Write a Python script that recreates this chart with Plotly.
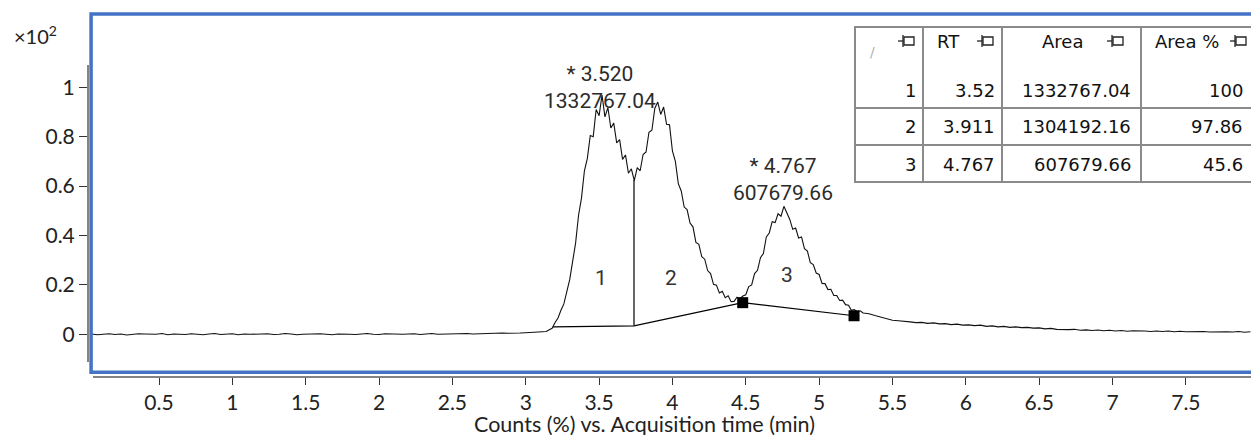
import numpy as np
import plotly.graph_objects as go

# ---------------- data ----------------
# signal sampled in three segments (start time, step in min) with values read from the picture
base_t0, base_dt = 0.04, 0.04
base_v = [v / 1000 for v in [
    1, -2, 0, 2, -1, 1, -3, 0, 2, 1, -1, 0, 3, -2, 1, 0, -1, 2, 0, -2,
    1, 3, -1, 0, 2, -2, 1, 0, -1, 1, 2, -1, 0, 3, 1, -2, 0, 1, -1, 2,
    0, -2, 1, 2, 0, -1, 1, 3, 0, -1, 2, 1, -2, 0, 1, 2, -1, 1, 3, 0,
    1, 0, 2, 1, 3, 1, 2, 4, 2, 3, 5, 4, 6, 5, 6, 7, 8, 9]]

peak_t0, peak_dt = 3.14, 0.02
peak_v = [
    0.011, 0.018, 0.024, 0.048, 0.066, 0.097, 0.123, 0.173, 0.222, 0.296,
    0.370, 0.482, 0.551, 0.662, 0.712, 0.805, 0.800, 0.910, 0.885, 0.968,
    0.880, 0.918, 0.835, 0.855, 0.775, 0.788, 0.708, 0.726, 0.652, 0.670,
    0.622, 0.675, 0.662, 0.728, 0.738, 0.818, 0.826, 0.915, 0.940, 0.890,
    0.920, 0.850, 0.848, 0.742, 0.700, 0.610, 0.580, 0.515, 0.505, 0.450,
    0.435, 0.372, 0.364, 0.314, 0.304, 0.258, 0.246, 0.202, 0.199, 0.167,
    0.174, 0.148, 0.156, 0.132, 0.133, 0.150, 0.143, 0.155, 0.160, 0.193,
    0.200, 0.246, 0.259, 0.310, 0.327, 0.394, 0.410, 0.456, 0.452, 0.488,
    0.478, 0.518, 0.492, 0.465, 0.425, 0.430, 0.390, 0.394, 0.347, 0.337,
    0.290, 0.282, 0.248, 0.242, 0.206, 0.205, 0.181, 0.182, 0.157, 0.157,
    0.137, 0.138, 0.120, 0.118, 0.097, 0.100, 0.090, 0.095, 0.086]

tail_t0, tail_dt = 5.34, 0.04
tail_v = [v / 1000 for v in [
    83, 76, 70, 63, 57, 55, 51, 50, 47, 48, 44, 46, 42, 43, 39, 41, 37, 38, 35, 37,
    32, 34, 30, 32, 28, 30, 27, 28, 25, 26, 22, 24, 20, 21, 19, 20, 16, 18, 15, 17,
    14, 16, 13, 15, 12, 14, 12, 13, 11, 13, 11, 13, 10, 12, 10, 11, 9, 11, 9, 10,
    9, 10, 9, 11, 8, 10]]

# integration baseline (time, value); last two points are marked
bl_t = [3.186, 3.738, 4.479, 5.238]
bl_v = [0.030, 0.034, 0.128, 0.075]
valley1_v = 0.625          # signal value at the drop line

# peak table
peak_ids = ["1", "2", "3"]
rt_txt = ["3.52", "3.911", "4.767"]
area_txt = ["1332767.04", "1304192.16", "607679.66"]
area_pct_txt = ["100", "97.86", "45.6"]
table_header = ["RT", "Area", "Area %"]

# labelled peaks
lab_rt = [3.520, 4.767]
lab_apex = [0.961, 0.512]
lab_text = ["* 3.520<br>1332767.04", "* 4.767<br>607679.66"]

x_ticks = [0.5, 1, 1.5, 2, 2.5, 3, 3.5, 4, 4.5, 5, 5.5, 6, 6.5, 7, 7.5]
x_ticklabels = ["0.5", "1", "1.5", "2", "2.5", "3", "3.5", "4", "4.5", "5", "5.5", "6", "6.5", "7", "7.5"]
y_ticks = [0, 0.2, 0.4, 0.6, 0.8, 1]
y_ticklabels = ["0", "0.2", "0.4", "0.6", "0.8", "1"]

# ---------------- build ----------------
def seg(t0, dt, vals):
    return [round(t0 + dt * i, 4) for i in range(len(vals))]

t_all = seg(base_t0, base_dt, base_v) + seg(peak_t0, peak_dt, peak_v) + seg(tail_t0, tail_dt, tail_v)
v_all = base_v + peak_v + tail_v

W, H = 1251, 436
L, R, T, B = 88, 0, 8, 59
PW, PH = W - L - R, H - T - B

def px(x):
    return (x - L) / PW

def py(y):
    return (H - B - y) / PH

fig = go.Figure()
fig.add_trace(go.Scatter(x=t_all, y=v_all, mode="lines",
                         line=dict(color="#111", width=1.1), hoverinfo="skip", showlegend=False))
fig.add_trace(go.Scatter(x=bl_t, y=bl_v, mode="lines",
                         line=dict(color="#000", width=1.2), hoverinfo="skip", showlegend=False))
fig.add_trace(go.Scatter(x=[bl_t[1], bl_t[1]], y=[bl_v[1], valley1_v], mode="lines",
                         line=dict(color="#000", width=1.2), hoverinfo="skip", showlegend=False))
fig.add_trace(go.Scatter(x=bl_t[2:], y=bl_v[2:], mode="markers",
                         marker=dict(symbol="square", size=11, color="#000"),
                         hoverinfo="skip", showlegend=False))

shapes = []
# blue frame
shapes.append(dict(type="rect", xref="x", yref="y", x0=0.037, x1=9, y0=-0.154, y1=1.297,
                   line=dict(color="#4472c4", width=3.5), fillcolor="rgba(0,0,0,0)", layer="above"))
# axis lines
shapes.append(dict(type="line", xref="paper", yref="paper", x0=px(93), x1=1.02, y0=py(377), y1=py(377),
                   line=dict(color="#5a5a5a", width=1.5)))
shapes.append(dict(type="line", xref="paper", yref="paper", x0=0, x1=0, y0=py(65), y1=py(362),
                   line=dict(color="#333", width=1.2)))

# table
tx = [855, 923, 1002, 1141, 1262]
ty = [27, 108, 145, 182]
shapes.append(dict(type="rect", xref="paper", yref="paper", x0=px(tx[0]), x1=px(tx[-1]),
                   y0=py(ty[-1]), y1=py(ty[0]), fillcolor="white",
                   line=dict(color="#8a8a8a", width=2)))
for x in tx[1:-1]:
    shapes.append(dict(type="line", xref="paper", yref="paper", x0=px(x), x1=px(x),
                       y0=py(ty[-1]), y1=py(ty[0]), line=dict(color="#8a8a8a", width=2)))
for y in ty[1:-1]:
    shapes.append(dict(type="line", xref="paper", yref="paper", x0=px(tx[0]), x1=px(tx[-1]),
                       y0=py(y), y1=py(y), line=dict(color="#8a8a8a", width=2)))
# pin icons
for ix in [898, 977, 1107, 1230]:
    shapes.append(dict(type="line", xref="paper", yref="paper", x0=px(ix), x1=px(ix + 5),
                       y0=py(41), y1=py(41), line=dict(color="#222", width=1.3)))
    shapes.append(dict(type="line", xref="paper", yref="paper", x0=px(ix + 5), x1=px(ix + 5),
                       y0=py(35), y1=py(47), line=dict(color="#222", width=1.3)))
    shapes.append(dict(type="rect", xref="paper", yref="paper", x0=px(ix + 6), x1=px(ix + 16),
                       y0=py(45), y1=py(37), line=dict(color="#222", width=1.3)))

ann = []
tfont = dict(family="DejaVu Sans", size=18, color="#111")
ann.append(dict(xref="paper", yref="paper", x=px(877), y=py(42), text="/", showarrow=False,
                font=dict(family="DejaVu Sans", size=14, color="#b0b0b0")))
for txt, xl in zip(table_header, [935, 1040, 1153]):
    ann.append(dict(xref="paper", yref="paper", x=px(xl), y=py(42), text=txt, showarrow=False,
                    xanchor="left", yanchor="middle", font=tfont))
row_y = [90, 127, 164]
for i in range(3):
    for txt, xr in zip([peak_ids[i], rt_txt[i], area_txt[i], area_pct_txt[i]], [918, 997, 1133, 1245]):
        ann.append(dict(xref="paper", yref="paper", x=px(xr), y=py(row_y[i]), text=txt,
                        showarrow=False, xanchor="right", yanchor="middle", font=tfont))

afont = dict(family="Roboto", size=21, color="#2b2b2b")
for rt, ap, txt, ys in zip(lab_rt, lab_apex, lab_text, [9, 28]):
    ann.append(dict(x=rt, y=ap, text=txt, showarrow=False, xanchor="center", yanchor="middle",
                    yshift=ys, xshift=-2, font=afont))
for lbl, (lx, ly) in zip(peak_ids, [(3.513, 0.228), (3.991, 0.228), (4.781, 0.240)]):
    ann.append(dict(x=lx, y=ly, text=lbl, showarrow=False, font=dict(family="Roboto", size=21, color="#333")))

ann.append(dict(xref="paper", yref="paper", x=px(12), y=py(35), text="×10<sup>2</sup>", showarrow=False,
                xanchor="left", yanchor="middle", font=dict(family="Lato", size=20, color="#222")))
ann.append(dict(xref="paper", yref="paper", x=px(644.5), y=py(424), text="Counts (%) vs. Acquisition time (min)",
                showarrow=False, xanchor="center", yanchor="middle", height=22, borderpad=0,
                font=dict(family="Lato", size=21.5, color="#222")))

fig.update_layout(
    width=W, height=H, autosize=False,
    margin=dict(l=L, r=R, t=T, b=B, pad=0),
    paper_bgcolor="white", plot_bgcolor="white",
    shapes=shapes, annotations=ann, showlegend=False,
    xaxis=dict(range=[0.016, 7.944], tickvals=x_ticks, ticktext=x_ticklabels, ticks="outside",
               ticklen=7, tickcolor="#333", showline=False, showgrid=False, zeroline=False,
               tickfont=dict(family="Lato", size=21, color="#222")),
    yaxis=dict(range=[-0.173, 1.321], tickvals=y_ticks, ticktext=y_ticklabels, ticks="outside",
               ticklen=8, tickcolor="#333", showline=False, showgrid=False, zeroline=False,
               tickfont=dict(family="Lato", size=21, color="#222")),
)

fig.write_html("out.html", config={"displayModeBar": False},
               post_script="document.body.style.margin='0';document.body.style.overflow='hidden';")
